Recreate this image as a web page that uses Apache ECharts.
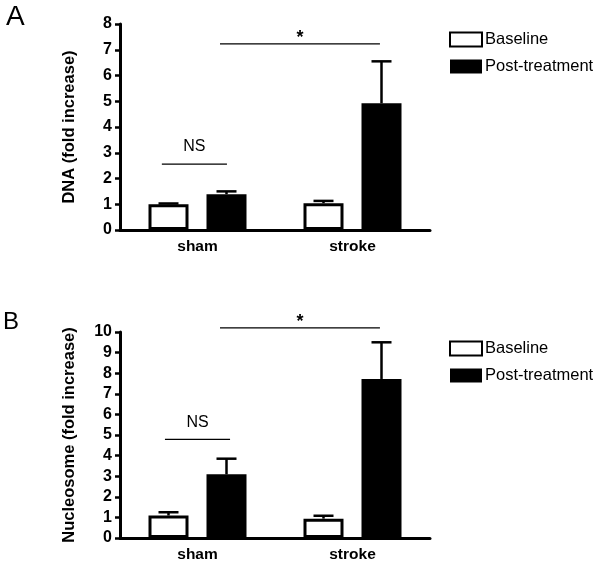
<!DOCTYPE html>
<html><head><meta charset="utf-8">
<script src="https://cdn.jsdelivr.net/npm/echarts@6/dist/echarts.min.js"></script>
<style>html,body{margin:0;padding:0;background:#fff}#c{width:600px;height:566px}</style>
</head><body><div id="c"></div>
<script>
// ---- data ----
const categories = ['sham', 'stroke'];
const seriesNames = ['Baseline', 'Post-treatment'];
// Panel A: DNA (fold increase)
const dnaBaseline = [1.00, 1.04];
const dnaBaselineErr = [0.03, 0.09];
const dnaPost = [1.39, 4.92];
const dnaPostErr = [0.11, 1.63];
// Panel B: Nucleosome (fold increase)
const nucBaseline = [1.09, 0.94];
const nucBaselineErr = [0.16, 0.14];
const nucPost = [3.09, 7.72];
const nucPostErr = [0.76, 1.78];
// significance annotations: label, bar height
const dnaSigLabels = ['NS', '*'];
const dnaSigHeights = [2.56, 7.23];
const nucSigLabels = ['NS', '*'];
const nucSigHeights = [4.79, 10.2];

// ---- layout / style ----
const FONT = 'Liberation Sans, Arial, sans-serif';
const BAR_W = 40, BAR_GAP_PX = 18;
const HALF_OFF = (BAR_W + BAR_GAP_PX) / 2;
// bracket extents in category-band units (relative to category centre)
const sigSpans = [[-0.23, 0.19], [0.145, 1.177]];
const sigSpansB = [[-0.21, 0.21], [0.145, 1.177]];

function errorSeries(name, means, errs, offsetSign, gi) {
  return {
    type: 'custom', name: name + ' err', xAxisIndex: gi, yAxisIndex: gi, z: 1, silent: true,
    data: means.map((m, i) => [i, m, m + errs[i]]),
    renderItem: function (params, api) {
      const p0 = api.coord([api.value(0), api.value(1)]);
      const p1 = api.coord([api.value(0), api.value(2)]);
      const x = p0[0] + offsetSign * HALF_OFF;
      return { type: 'group', children: [
        { type: 'line', shape: { x1: x, y1: p0[1], x2: x, y2: p1[1] }, style: { stroke: '#000', lineWidth: 2.5 } },
        { type: 'line', shape: { x1: x - 10, y1: p1[1], x2: x + 10, y2: p1[1] }, style: { stroke: '#000', lineWidth: 2.5 } }
      ]};
    }
  };
}
function sigSeries(labels, heights, spans, gi) {
  return {
    type: 'custom', xAxisIndex: gi, yAxisIndex: gi, silent: true, clip: false,
    data: heights.map(h => [0, h]),
    renderItem: function (params, api) {
      const i = params.dataIndex;
      const y = api.value(1);
      const c0 = api.coord([0, y]), c1 = api.coord([1, y]);
      const band = c1[0] - c0[0];
      const xa = c0[0] + spans[i][0] * band, xb = c0[0] + spans[i][1] * band;
      const isStar = labels[i] === '*';
      return { type: 'group', children: [
        { type: 'line', shape: { x1: xa, y1: c0[1], x2: xb, y2: c0[1] }, style: { stroke: '#000', lineWidth: 1.3 } },
        { type: 'text', style: { text: labels[i], x: (xa + xb) / 2, y: c0[1] - (isStar ? -3 : 9),
          align: 'center', verticalAlign: 'bottom', fill: '#000',
          font: (isStar ? 'bold 18px ' : '16px ') + FONT } }
      ]};
    }
  };
}
function grid(top) { return { left: 120, top: top, width: 310, height: 206, containLabel: false }; }
function xAxis(gi) {
  return { type: 'category', gridIndex: gi, data: categories,
    axisLine: { lineStyle: { color: '#000', width: 3 } },
    axisTick: { alignWithLabel: true, length: 6, lineStyle: { color: '#000', width: 3 } },
    axisLabel: { color: '#000', fontWeight: 'bold', fontSize: 15.5, fontFamily: FONT, margin: 9 } };
}
function yAxis(gi, max, name) {
  return { type: 'value', gridIndex: gi, min: 0, max: max, interval: 1,
    name: name, nameLocation: 'middle', nameGap: 42,
    nameTextStyle: { color: '#000', fontWeight: 'bold', fontSize: 16.5, fontFamily: FONT },
    axisLine: { show: true, lineStyle: { color: '#000', width: 3 } },
    axisTick: { show: true, length: 5, lineStyle: { color: '#000', width: 2.5 } },
    axisLabel: { color: '#000', fontWeight: 'bold', fontSize: 16, fontFamily: FONT, margin: 8 },
    splitLine: { show: false } };
}
function bars(gi, base, post) {
  return [
    { type: 'bar', name: seriesNames[0], xAxisIndex: gi, yAxisIndex: gi, data: base,
      barWidth: BAR_W, barGap: (BAR_GAP_PX / BAR_W * 100) + '%', z: 2,
      itemStyle: { color: '#fff', borderColor: '#000', borderWidth: 3 } },
    { type: 'bar', name: seriesNames[1], xAxisIndex: gi, yAxisIndex: gi, data: post,
      barWidth: BAR_W, z: 2,
      itemStyle: { color: '#000', borderColor: '#000', borderWidth: 0 } }
  ];
}
function legend(top) {
  return { data: seriesNames.map(n => ({ name: n, icon: 'rect' })), left: 449, top: top, padding: 0,
    orient: 'vertical', itemWidth: 32, itemHeight: 14, itemGap: 10, selectedMode: false,
    textStyle: { color: '#000', fontSize: 16.5, fontFamily: FONT, padding: [0, 0, 0, -2] } };
}

const chart = echarts.init(document.getElementById('c'), null, { renderer: 'canvas' });
chart.setOption({
  backgroundColor: '#fff',
  animation: false,
  title: [
    { text: 'A', left: 6, top: 3, padding: 0, textStyle: { fontSize: 28, fontWeight: 'normal', color: '#000', fontFamily: FONT } },
    { text: 'B', left: 3, top: 310, padding: 0, textStyle: { fontSize: 24, fontWeight: 'normal', color: '#000', fontFamily: FONT } }
  ],
  legend: [legend(31), legend(340)],
  grid: [grid(24), grid(332)],
  xAxis: [xAxis(0), xAxis(1)],
  yAxis: [yAxis(0, 8, 'DNA (fold increase)'), yAxis(1, 10, 'Nucleosome (fold increase)')],
  series: [
    ...bars(0, dnaBaseline, dnaPost),
    errorSeries('Baseline', dnaBaseline, dnaBaselineErr, -1, 0),
    errorSeries('Post-treatment', dnaPost, dnaPostErr, 1, 0),
    sigSeries(dnaSigLabels, dnaSigHeights, sigSpans, 0),
    ...bars(1, nucBaseline, nucPost),
    errorSeries('Baseline', nucBaseline, nucBaselineErr, -1, 1),
    errorSeries('Post-treatment', nucPost, nucPostErr, 1, 1),
    sigSeries(nucSigLabels, nucSigHeights, sigSpansB, 1)
  ]
});
</script></body></html>
